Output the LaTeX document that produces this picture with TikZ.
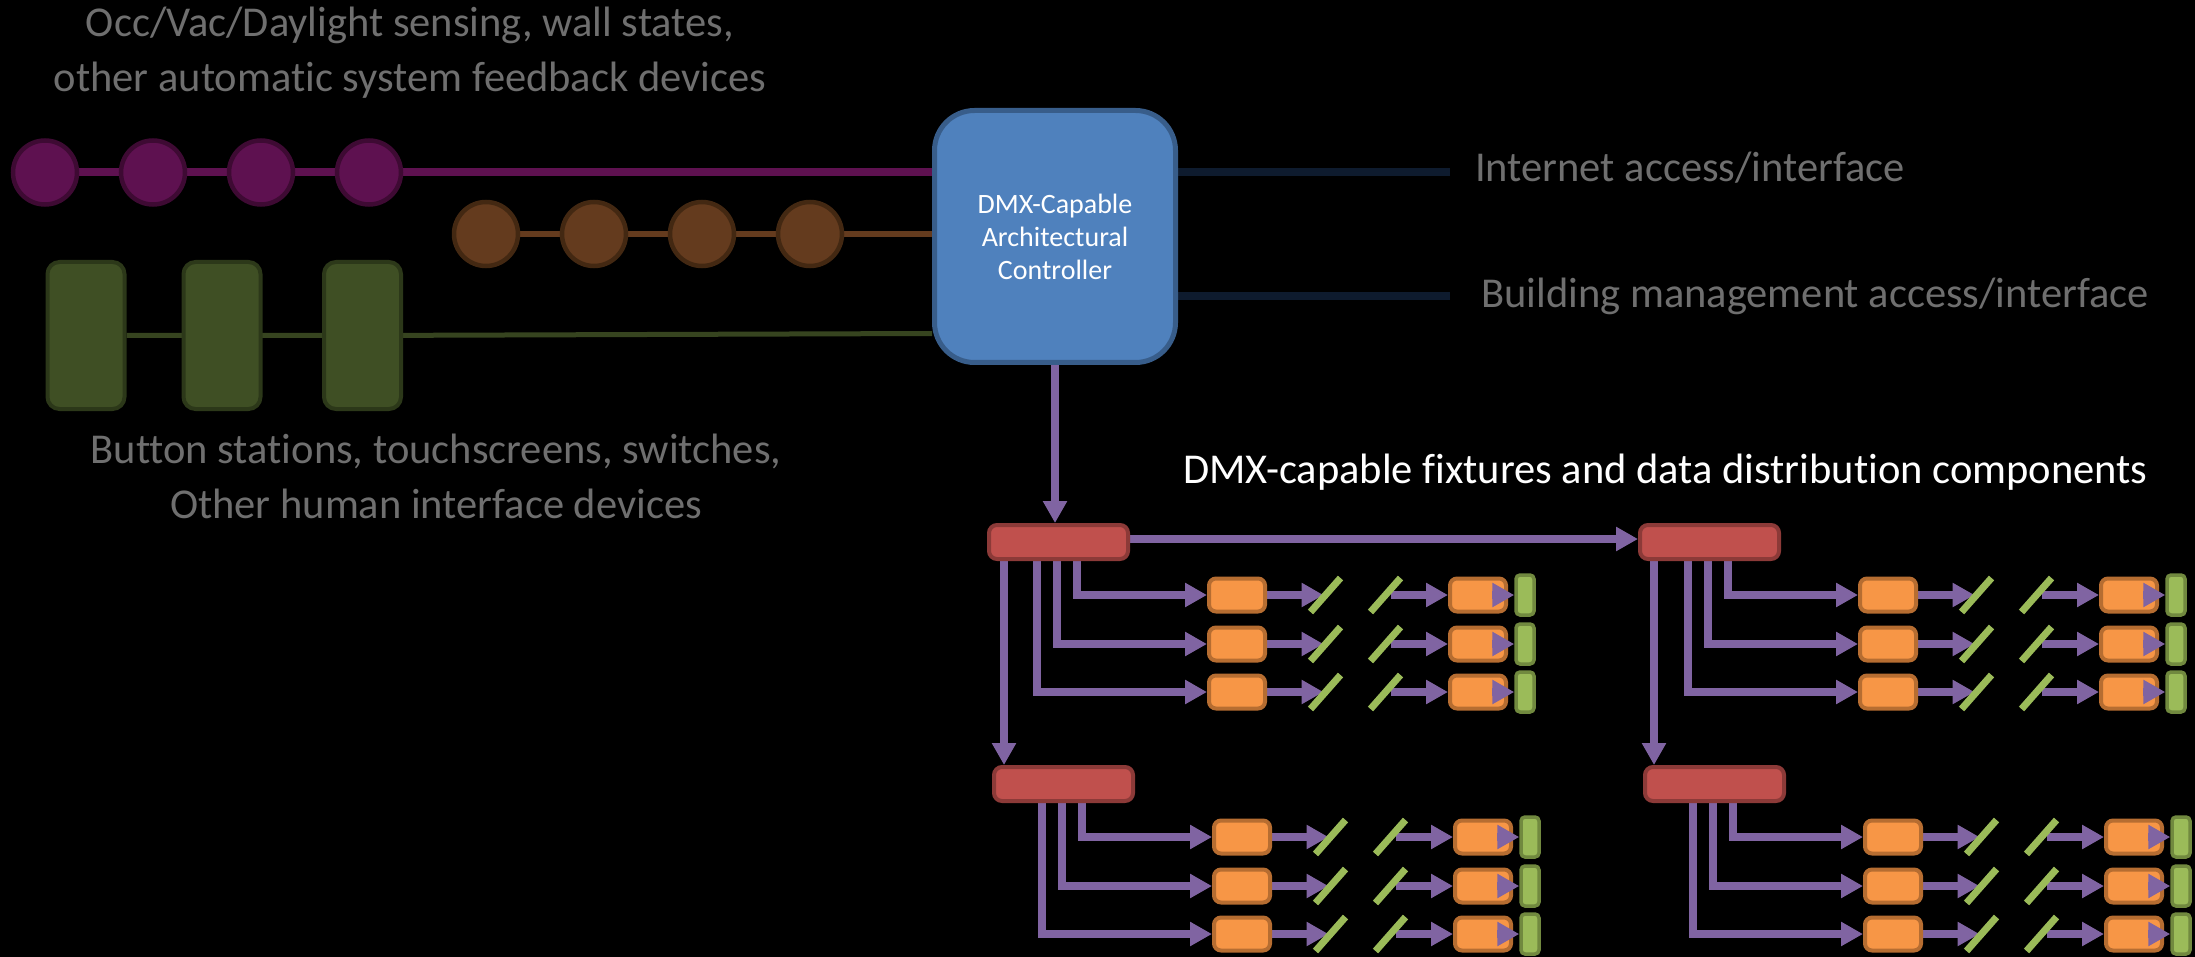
\documentclass[tikz,border=0pt]{standalone}
\usepackage{fontspec}
\setmainfont{Carlito}[Ligatures=NoCommon]
\usetikzlibrary{arrows.meta}

\definecolor{sensfill}{HTML}{5E1150}
\definecolor{sensline}{HTML}{3E0A33}
\definecolor{auxfill}{HTML}{643B1E}
\definecolor{auxline}{HTML}{432812}
\definecolor{uifill}{HTML}{3F4F24}
\definecolor{uiline}{HTML}{2C3819}
\definecolor{uiwire}{HTML}{36441F}
\definecolor{ctrlfill}{HTML}{4F81BD}
\definecolor{ctrlline}{HTML}{385D8A}
\definecolor{netwire}{HTML}{0E1B2E}
\definecolor{dmx}{HTML}{8064A2}
\definecolor{hubfill}{HTML}{C0504D}
\definecolor{hubline}{HTML}{8C3A38}
\definecolor{fixfill}{HTML}{F79646}
\definecolor{fixline}{HTML}{B66D31}
\definecolor{endfill}{HTML}{9BBB59}
\definecolor{endline}{HTML}{71893F}
\definecolor{labelgray}{HTML}{6F6F6F}

\pgfdeclarelayer{canvas}
\pgfdeclarelayer{wires}
\pgfsetlayers{canvas,wires,main}

\tikzset{
  sensor/.style={circle, inner sep=0, minimum size=64, fill=sensfill, draw=sensline, line width=4.5},
  auxdev/.style={circle, inner sep=0, minimum size=64, fill=auxfill, draw=auxline, line width=4.5},
  uidev/.style={rectangle, rounded corners=12, inner sep=0, minimum width=77, minimum height=147,
    fill=uifill, draw=uiline, line width=4},
  ctrlbox/.style={rectangle, rounded corners=40, inner sep=0, minimum width=241, minimum height=252,
    fill=ctrlfill, draw=ctrlline, line width=5, text=white, align=center,
    font=\fontsize{28}{33}\selectfont},
  hubbox/.style={rectangle, rounded corners=8, inner sep=0, minimum width=139, minimum height=34,
    fill=hubfill, draw=hubline, line width=4},
  fixbox/.style={rectangle, rounded corners=7, inner sep=0, minimum width=56, minimum height=33,
    fill=fixfill, draw=fixline, line width=4},
  endbar/.style={rectangle, rounded corners=4, inner sep=0, minimum width=18, minimum height=40,
    fill=endfill, draw=endline, line width=3.5},
  graytext/.style={text=labelgray, inner sep=0, font=\fontsize{42.5}{55}\selectfont},
  whitetext/.style={text=white, inner sep=0, font=\fontsize{42.5}{55}\selectfont},
  senswire/.style={draw=sensfill, line width=8},
  auxwire/.style={draw=auxfill, line width=5.5},
  uiwireline/.style={draw=uiwire, line width=5},
  netline/.style={draw=netwire, line width=8},
  flow/.style={draw=dmx, line width=8, -{Triangle[length=22, width=23]}},
  slashmark/.style={draw=endfill, line width=7},
}

\begin{document}
\begin{tikzpicture}[x=1pt, y=-1pt]
\begin{pgfonlayer}{canvas}
  \fill[black] (0,0) rectangle (2195,957);
\end{pgfonlayer}
\useasboundingbox (0,0) rectangle (2195,957);

% labels (two-line labels are placed by the baseline of their last line)
\node[graytext, align=center, anchor=base] (sensTxt) at (410,92)
  {Occ/Vac/Daylight sensing, wall states,\\other automatic system feedback devices};
\node[graytext, align=center, anchor=base] (uiTxt) at (436,518)
  {Button stations, touchscreens, switches,\\Other human interface devices};
\node[graytext, anchor=base west] (inetTxt) at (1475,182) {Internet access/interface};
\node[graytext, anchor=base west] (bmsTxt) at (1481,308) {Building management access/interface};
\node[whitetext, anchor=base west] (fixTxt) at (1183,483) {DMX-capable fixtures and data distribution components};

% controller
\node[ctrlbox] (ctrl) at (1055,236.5) {DMX-Capable\\Architectural\\Controller};

% automatic sensing devices
\foreach \i/\x in {1/45, 2/153, 3/261, 4/369}
  \node[sensor] (p\i) at (\x,172.5) {};
\foreach \i/\x in {1/486, 2/594, 3/702, 4/810}
  \node[auxdev] (b\i) at (\x,234) {};
\foreach \i/\x in {1/86, 2/222, 3/362.5}
  \node[uidev] (u\i) at (\x,335.5) {};

\coordinate (inetEnd) at (1450,172);
\coordinate (bmsEnd) at (1450,296);

\begin{pgfonlayer}{wires}
  \draw[senswire] (p1) -- (ctrl.west |- p1);
  \draw[auxwire] (b1) -- (ctrl.west |- b1);
  \draw[uiwireline] (u1) -- (u3) -- ([yshift=2]ctrl.west |- u3);
  \draw[netline] (ctrl.east |- inetEnd) -- (inetEnd);
  \draw[netline] (ctrl.east |- bmsEnd) -- (bmsEnd);
\end{pgfonlayer}

% DMX distribution groups
\foreach \g/\rx/\ry in {A/987/523, B/1638/523, C/992/765, D/1643/765} {
  \node[hubbox] (\g-hub) at (\rx+71.5, \ry+19) {};
  \foreach \r/\dy/\vs in {1/72/90, 2/121/70, 3/169/50} {
    \node[fixbox] (\g-a\r) at (\rx+250, \ry+\dy) {};
    \node[fixbox] (\g-b\r) at (\rx+491, \ry+\dy) {};
    \node[endbar] (\g-f\r) at (\rx+538, \ry+\dy) {};
    \coordinate (\g-s\r) at (\rx+338.5, \ry+\dy);
    \coordinate (\g-t\r) at (\rx+398.5, \ry+\dy);
    \begin{pgfonlayer}{wires}
      \draw[flow] ([xshift=\vs]\g-hub.south west) |- (\g-a\r.west);
      \draw[flow] (\g-a\r.east) -- ([xshift=-2]\g-s\r);
      \draw[flow] ([xshift=5]\g-t\r) -- (\g-b\r.west);
    \end{pgfonlayer}
    \draw[flow, shorten <=14] (\g-b\r.center) -- (\g-f\r.west);
    \draw[slashmark] ([shift={(-15,17)}]\g-s\r) -- ([shift={(15,-17)}]\g-s\r);
    \draw[slashmark] ([shift={(-15,17)}]\g-t\r) -- ([shift={(15,-17)}]\g-t\r);
  }
}

\coordinate (A-drop) at ([xshift=17]A-hub.south west);
\coordinate (B-drop) at ([xshift=16]B-hub.south west);
\begin{pgfonlayer}{wires}
  \draw[flow] (ctrl.south) -- (ctrl.south |- A-hub.north);
  \draw[flow] ([yshift=3]A-hub.east) -- ([yshift=3]B-hub.west);
  \draw[flow] (A-drop) -- (A-drop |- C-hub.north);
  \draw[flow] (B-drop) -- (B-drop |- D-hub.north);
\end{pgfonlayer}
\end{tikzpicture}
\end{document}
